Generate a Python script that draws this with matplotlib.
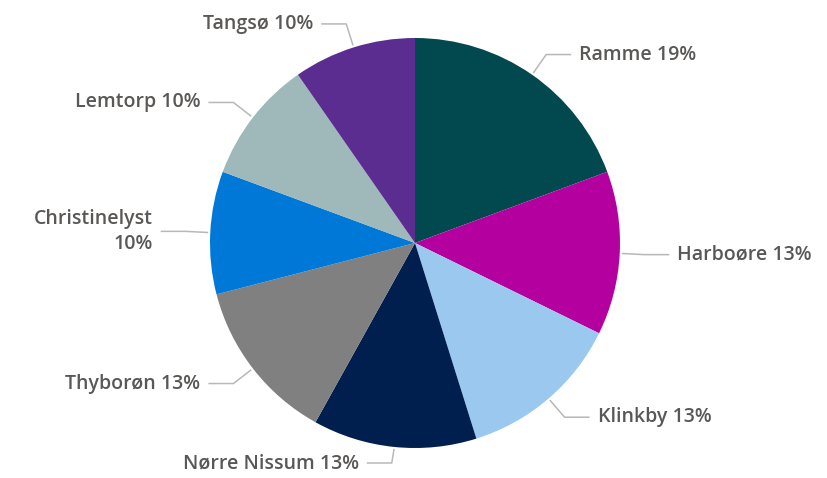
import numpy as np
import matplotlib.pyplot as plt

# counts per site (shown as rounded percentages)
sites = ["Ramme", "Harboøre", "Klinkby", "Nørre Nissum", "Thyborøn",
         "Christinelyst", "Lemtorp", "Tangsø"]
counts = [6, 4, 4, 4, 4, 3, 3, 3]
colors = ["#01494f", "#b4009e", "#9bc8ef", "#001f4e", "#808080",
          "#0078d7", "#9fb8b9", "#5c2d91"]

W, H = 827, 478
R_PX = 205.0
CX, CY = 415.0, 243.0

fig = plt.figure(figsize=(W / 100, H / 100), dpi=100)
ax = fig.add_axes([0, 0, 1, 1])

wedges, _ = ax.pie(counts, colors=colors, startangle=90, counterclock=False,
                   radius=1.0, wedgeprops=dict(linewidth=0))
ax.set_aspect("auto")
ax.set_xlim(-CX / R_PX, (W - CX) / R_PX)
ax.set_ylim(-(H - CY) / R_PX, CY / R_PX)
ax.axis("off")

# keep the lowest label fully inside the canvas
y_floor = -(H - CY - 15) / R_PX

total = sum(counts)
text_color = "#5a5856"
line_color = "#b8b8b8"
for w, name, c in zip(wedges, sites, counts):
    ang = np.deg2rad((w.theta1 + w.theta2) / 2)
    x0, y0 = np.cos(ang) * 1.01, np.sin(ang) * 1.01
    x1, y1 = np.cos(ang) * 1.12, max(np.sin(ang) * 1.12, y_floor)
    side = 1 if np.cos(ang) >= 0 else -1
    x2 = x1 + side * 25 / R_PX
    ax.plot([x0, x1, x2], [y0, y1, y1], color=line_color, lw=1.1,
            solid_capstyle="butt")
    pct = round(100 * c / total)
    label = f"{name} {pct}%"
    if name == "Christinelyst":
        label = f"{name}\n{pct}%"
    ax.text(x2 + side * 8 / R_PX, y1, label, ha="left" if side > 0 else "right",
            va="center", fontsize=14, color=text_color, family="Open Sans",
            fontweight="semibold", linespacing=1.3)

fig.savefig("out.png", dpi=100)
